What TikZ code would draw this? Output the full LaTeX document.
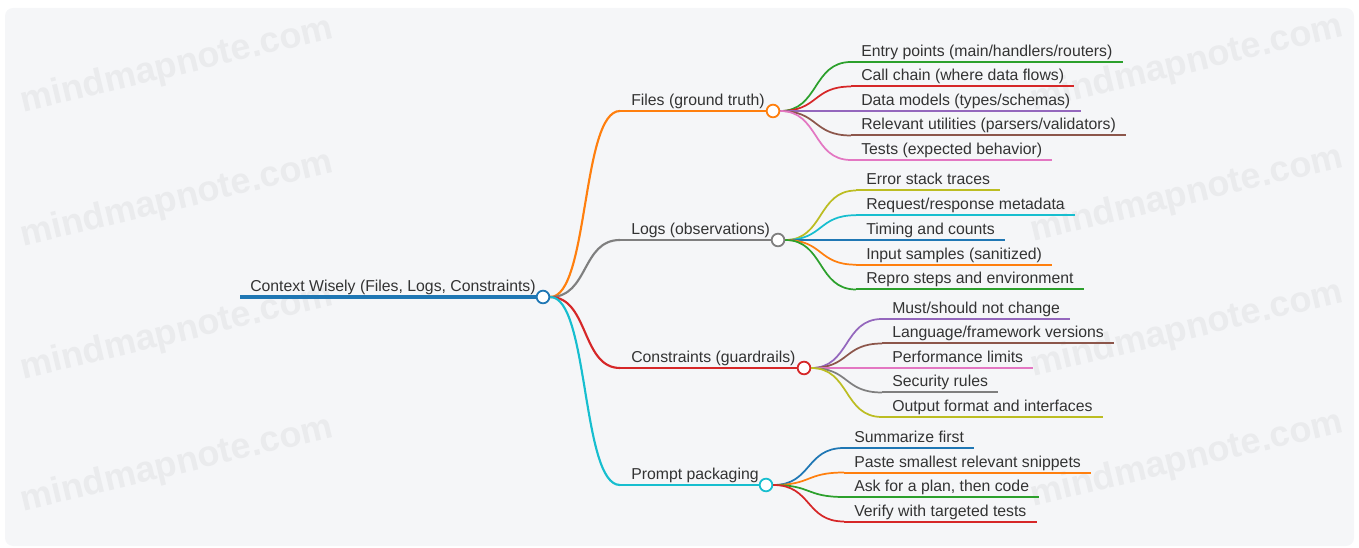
\documentclass[tikz,border=0pt]{standalone}
\usepackage{fontspec}
\setmainfont{Liberation Sans}
\usetikzlibrary{calc}
\definecolor{cblue}{HTML}{1F77B4}
\definecolor{corange}{HTML}{FF7F0E}
\definecolor{cgreen}{HTML}{2CA02C}
\definecolor{cred}{HTML}{D62728}
\definecolor{cpurple}{HTML}{9467BD}
\definecolor{cbrown}{HTML}{8C564B}
\definecolor{cpink}{HTML}{E377C2}
\definecolor{cgray}{HTML}{7F7F7F}
\definecolor{colive}{HTML}{BCBD22}
\definecolor{ccyan}{HTML}{17BECF}
\definecolor{bgc}{HTML}{F5F6F8}
\definecolor{wmc}{HTML}{EAEBED}
\definecolor{txt}{HTML}{333333}
\newcommand\mmleaf[6]{%
  \coordinate (#1-s) at (#3,#4);
  \node[lbl] (#1) at ($(#3,#4)+(10,-5.5)$) {#6};
  \draw[twig,draw=#5] (#2) to (#1-s);
  \draw[uline,draw=#5] (#1-s) -- ($(#1.east |- #1-s)+(10,0)$);
}
\begin{document}
\begin{tikzpicture}[x=0.75pt,y=-0.75pt,
  lbl/.style={anchor=base west,inner sep=0pt,text=txt,font=\fontsize{11.85}{13}\selectfont},
  dot/.style={circle,fill=white,line width=1.35pt,minimum size=9.5pt,inner sep=0pt},
  link/.style={line width=1.6pt,out=0,in=180,out distance=29pt,in distance=29pt},
  twig/.style={line width=1.3pt,out=0,in=180,out distance=29pt,in distance=29pt},
  uline/.style={line width=1.5pt},
  wm/.style={text=wmc,font=\bfseries\fontsize{27}{30}\selectfont,rotate=13.5,inner sep=0pt}]
\useasboundingbox (0,0) rectangle (1359,548);
\fill[bgc,rounded corners=6pt] (5,8) rectangle (1354,546);
% watermarks
\node[wm] (wm1) at (177,66) {mindmapnote.com};
\node[wm] (wm2) at (177,200) {mindmapnote.com};
\node[wm] (wm3) at (177,333) {mindmapnote.com};
\node[wm] (wm4) at (177,465) {mindmapnote.com};
\node[wm] (wm5) at (1187,64) {mindmapnote.com};
\node[wm] (wm6) at (1187,195) {mindmapnote.com};
\node[wm] (wm7) at (1187,330) {mindmapnote.com};
\node[wm] (wm8) at (1187,460) {mindmapnote.com};
% root
\coordinate (r-s) at (240,297);
\node[dot,draw=cblue] (r-c) at (543,297) {};
\node[lbl] (r-t) at (250,292) {Context Wisely (Files, Logs, Constraints)};
\draw[line width=3pt,draw=cblue] (r-s) -- (r-c);
% branches
\coordinate (f-s) at (620,111);
\coordinate (l-s) at (620,240);
\coordinate (c-s) at (620,368);
\coordinate (p-s) at (620,485);
\node[dot,draw=corange] (f-c) at (773,111) {};
\node[dot,draw=cgray] (l-c) at (778,240) {};
\node[dot,draw=cred] (c-c) at (804,368) {};
\node[dot,draw=ccyan] (p-c) at (766,485) {};
\draw[link,draw=corange] (r-c) to (f-s);
\draw[link,draw=cgray] (r-c) to (l-s);
\draw[link,draw=cred] (r-c) to (c-s);
\draw[link,draw=ccyan] (r-c) to (p-s);
\draw[uline,draw=corange] (f-s) -- (f-c);
\draw[uline,draw=cgray] (l-s) -- (l-c);
\draw[uline,draw=cred] (c-s) -- (c-c);
\draw[uline,draw=ccyan] (p-s) -- (p-c);
\node[lbl] (f-t) at (631,105.5) {Files (ground truth)};
\node[lbl] (l-t) at (631,234.5) {Logs (observations)};
\node[lbl] (c-t) at (631,362.5) {Constraints (guardrails)};
\node[lbl] (p-t) at (631,479.5) {Prompt packaging};
% leaves: files
\mmleaf{f1}{f-c}{851}{62}{cgreen}{Entry points (main/handlers/routers)}
\mmleaf{f2}{f-c}{851}{86.5}{cred}{Call chain (where data flows)}
\mmleaf{f3}{f-c}{851}{111}{cpurple}{Data models (types/schemas)}
\mmleaf{f4}{f-c}{851}{135.5}{cbrown}{Relevant utilities (parsers/validators)}
\mmleaf{f5}{f-c}{851}{160}{cpink}{Tests (expected behavior)}
% leaves: logs
\mmleaf{l1}{l-c}{856}{190.5}{colive}{Error stack traces}
\mmleaf{l2}{l-c}{856}{215.2}{ccyan}{Request/response metadata}
\mmleaf{l3}{l-c}{856}{240}{cblue}{Timing and counts}
\mmleaf{l4}{l-c}{856}{264.7}{corange}{Input samples (sanitized)}
\mmleaf{l5}{l-c}{856}{289.5}{cgreen}{Repro steps and environment}
% leaves: constraints
\mmleaf{c1}{c-c}{882}{319}{cpurple}{Must/should not change}
\mmleaf{c2}{c-c}{882}{343.5}{cbrown}{Language/framework versions}
\mmleaf{c3}{c-c}{882}{368}{cpink}{Performance limits}
\mmleaf{c4}{c-c}{882}{392.5}{cgray}{Security rules}
\mmleaf{c5}{c-c}{882}{417}{colive}{Output format and interfaces}
% leaves: prompt
\mmleaf{p1}{p-c}{844}{448}{cblue}{Summarize first}
\mmleaf{p2}{p-c}{844}{472.5}{corange}{Paste smallest relevant snippets}
\mmleaf{p3}{p-c}{844}{497}{cgreen}{Ask for a plan, then code}
\mmleaf{p4}{p-c}{844}{521.5}{cred}{Verify with targeted tests}
\end{tikzpicture}
\end{document}
